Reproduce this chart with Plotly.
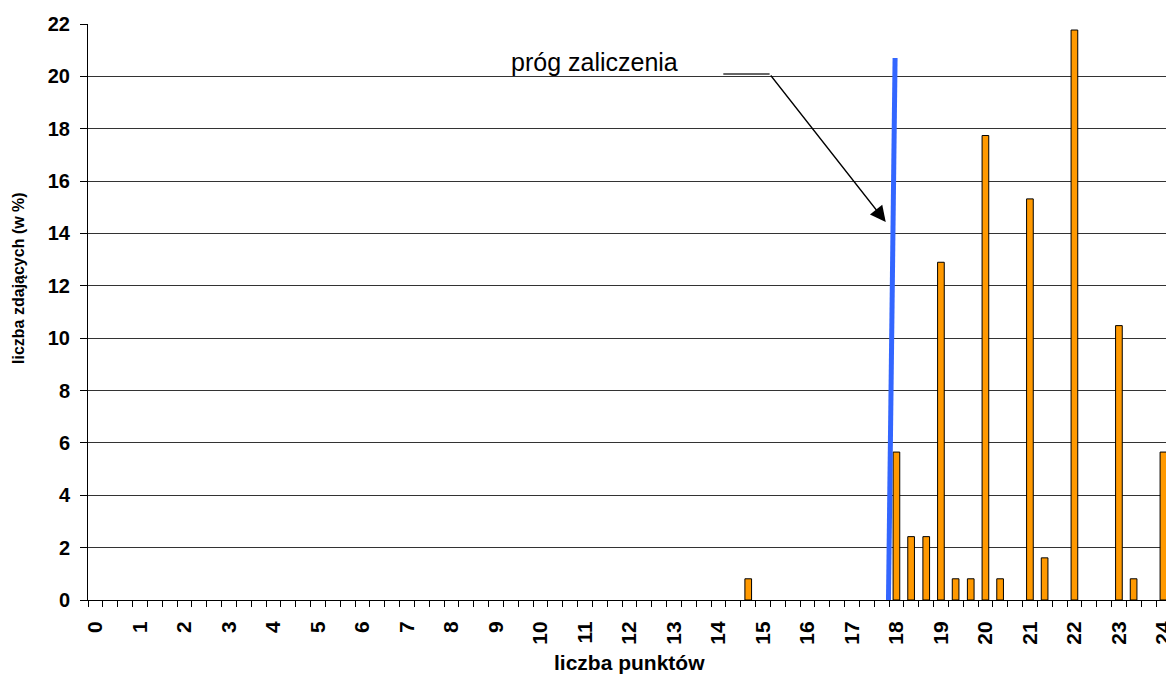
import plotly.graph_objects as go

# liczba punktow (co 1/3 punktu) i odsetek zdajacych
punkty = [14.67, 18, 18.33, 18.67, 19, 19.33, 19.67, 20, 20.33, 21, 21.33, 22, 23, 23.33, 24]
procent = [0.81, 5.65, 2.42, 2.42, 12.90, 0.81, 0.81, 17.74, 0.81, 15.32, 1.61, 21.77, 10.48, 0.81, 5.65]

# linia progu zaliczenia
prog_x = [17.82, 17.97]
prog_y = [-0.2, 20.7]

x_ticks = list(range(0, 25))
x_labels = [str(v) for v in x_ticks]

FONT = "Liberation Sans, Arial, sans-serif"

fig = go.Figure()

fig.add_trace(go.Bar(x=punkty, y=procent, width=0.15,
                     marker=dict(color="#FF9900", line=dict(color="black", width=1)),
                     hoverinfo="skip"))

fig.add_trace(go.Scatter(x=prog_x, y=prog_y, mode="lines",
                         line=dict(color="#3366FF", width=5), hoverinfo="skip"))

# strzalka z opisem progu
fig.add_shape(type="line", xref="x", yref="y", x0=14.11, y0=20.09, x1=15.15, y1=20.09,
              line=dict(color="#333", width=1.3))
fig.add_annotation(x=17.76, y=14.44, ax=15.15, ay=20.09, xref="x", yref="y",
                   axref="x", ayref="y", text="", showarrow=True,
                   arrowhead=2, arrowsize=2.4, arrowwidth=1.3, arrowcolor="black")
fig.add_annotation(x=11.21, y=20.55, xref="x", yref="y", text="próg zaliczenia",
                   showarrow=False, font=dict(family=FONT, size=25, color="black"))

# tytuly osi
fig.add_annotation(x=-0.065, y=0.559, xref="paper", yref="paper", textangle=-90,
                   xanchor="center", yanchor="middle",
                   text="<b>liczba zdających (w %)</b>", showarrow=False,
                   font=dict(family=FONT, size=16, color="black"))
fig.add_annotation(x=0.502, y=-0.109, xref="paper", yref="paper",
                   xanchor="center", yanchor="middle",
                   text="<b>liczba punktów</b>", showarrow=False,
                   font=dict(family=FONT, size=21, color="black"))

fig.update_xaxes(range=[-1/6, 24.058], tickmode="array", tickvals=x_ticks, ticktext=x_labels,
                 ticks="", tickangle=-90, ticklabelstandoff=12, ticklabeloverflow="allow",
                 automargin=False,
                 tickfont=dict(family=FONT, size=21, color="black", weight="bold"),
                 showline=True, linecolor="black", linewidth=1, showgrid=False, zeroline=False,
                 minor=dict(tickmode="linear", tick0=1/6, dtick=1/3, ticks="outside",
                            ticklen=6, tickcolor="black", tickwidth=1, showgrid=False))
fig.update_yaxes(range=[0, 22], dtick=2, ticks="outside", ticklen=7, tickcolor="black",
                 ticklabelstandoff=6, automargin=False,
                 tickfont=dict(family=FONT, size=20, color="black", weight="bold"),
                 showline=True, linecolor="black", linewidth=1,
                 showgrid=True, gridcolor="#333", gridwidth=1, zeroline=False)

fig.update_layout(width=1166, height=675, showlegend=False,
                  plot_bgcolor="white", paper_bgcolor="white",
                  margin=dict(l=88, r=0, t=24, b=75), hovermode=False)

# bez domyslnego marginesu strony
fig.write_html("out.html", config={"displayModeBar": False},
               post_script="document.body.style.margin='0';")
